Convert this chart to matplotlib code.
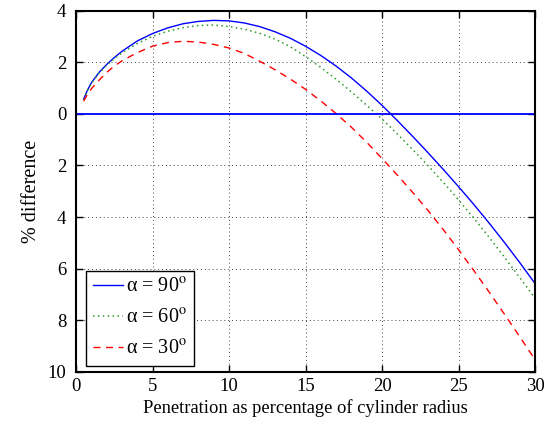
import matplotlib
matplotlib.use('Agg')
import matplotlib.pyplot as plt

# values
x = [0.5, 0.75, 1, 1.5, 2, 2.5, 3, 4, 5, 6, 7, 8, 9, 10, 11, 12, 13, 14, 15, 16,
     17, 18, 19, 20, 21, 22, 23, 24, 25, 26, 27, 28, 29, 30]
alpha90 = [0.57, 0.92, 1.2, 1.6, 1.91, 2.18, 2.42, 2.82, 3.11, 3.33, 3.49, 3.58,
           3.62, 3.6, 3.52, 3.38, 3.18, 2.93, 2.62, 2.26, 1.85, 1.39, 0.88, 0.33,
           -0.26, -0.87, -1.5, -2.15, -2.82, -3.51, -4.23, -4.98, -5.76, -6.57]
alpha60 = [0.56, 0.9, 1.18, 1.58, 1.88, 2.14, 2.36, 2.72, 3.0, 3.2, 3.34, 3.42,
           3.44, 3.38, 3.28, 3.12, 2.9, 2.6, 2.22, 1.8, 1.34, 0.85, 0.33, -0.2,
           -0.78, -1.38, -2.0, -2.65, -3.33, -4.04, -4.78, -5.55, -6.34, -7.14]
alpha30 = [0.49, 0.75, 0.97, 1.3, 1.6, 1.85, 2.05, 2.37, 2.62, 2.76, 2.81, 2.78,
           2.69, 2.55, 2.34, 2.04, 1.71, 1.35, 0.95, 0.5, 0.01, -0.52, -1.1, -1.73,
           -2.37, -3.04, -3.74, -4.48, -5.26, -6.07, -6.9, -7.76, -8.63, -9.52]

xticks = [0, 5, 10, 15, 20, 25, 30]
yticks = [4, 2, 0, -2, -4, -6, -8, -10]
ytick_labels = ['4', '2', '0', '2', '4', '6', '8', '10']

plt.rcParams['font.family'] = ['Liberation Serif', 'DejaVu Serif']
plt.rcParams['mathtext.fontset'] = 'stix'
plt.rcParams['font.size'] = 13.5

fig = plt.figure(figsize=(5.52, 4.21), dpi=100)
ax = fig.add_axes([0.1377, 0.1164, 0.8315, 0.8585])

ax.plot(x, alpha90, color='#0000ff', lw=1.0, ls='-', label='α = 90$^{\\mathrm{o}}$')
ax.plot(x, alpha60, color='#2a9a2a', lw=1.1, ls=(0, (1, 2.2)), label='α = 60$^{\\mathrm{o}}$')
ax.plot(x, alpha30, color='#ff0000', lw=1.0, ls=(0, (5, 4)), label='α = 30$^{\\mathrm{o}}$')
ax.axhline(0, color='#0000ff', lw=1.3)

ax.set_xlim(0, 30)
ax.set_ylim(-10, 4)
ax.set_xticks(xticks)
ax.set_yticks(yticks)
ax.set_yticklabels(ytick_labels)
ax.tick_params(direction='in', top=True, right=True, length=5, width=1)
ax.tick_params(axis='y', pad=7)
ax.tick_params(axis='x', pad=4)
ax.grid(True, color='#444444', ls=(0, (1, 3)), lw=0.7)
for s in ax.spines.values():
    s.set_linewidth(1.5)

ax.set_xlabel('Penetration as percentage of cylinder radius', fontsize=13.3, labelpad=3)
ax.set_ylabel('% difference', fontsize=14.5, labelpad=5)

leg = ax.legend(loc='lower left', bbox_to_anchor=(0.022, 0.017), fontsize=14.5,
                fancybox=False, framealpha=1, edgecolor='black',
                handlelength=1.5, handletextpad=0.15, borderpad=0.35,
                labelspacing=0.58, borderaxespad=0)
leg.get_frame().set_linewidth(1.0)

fig.savefig('out.png', dpi=100)
